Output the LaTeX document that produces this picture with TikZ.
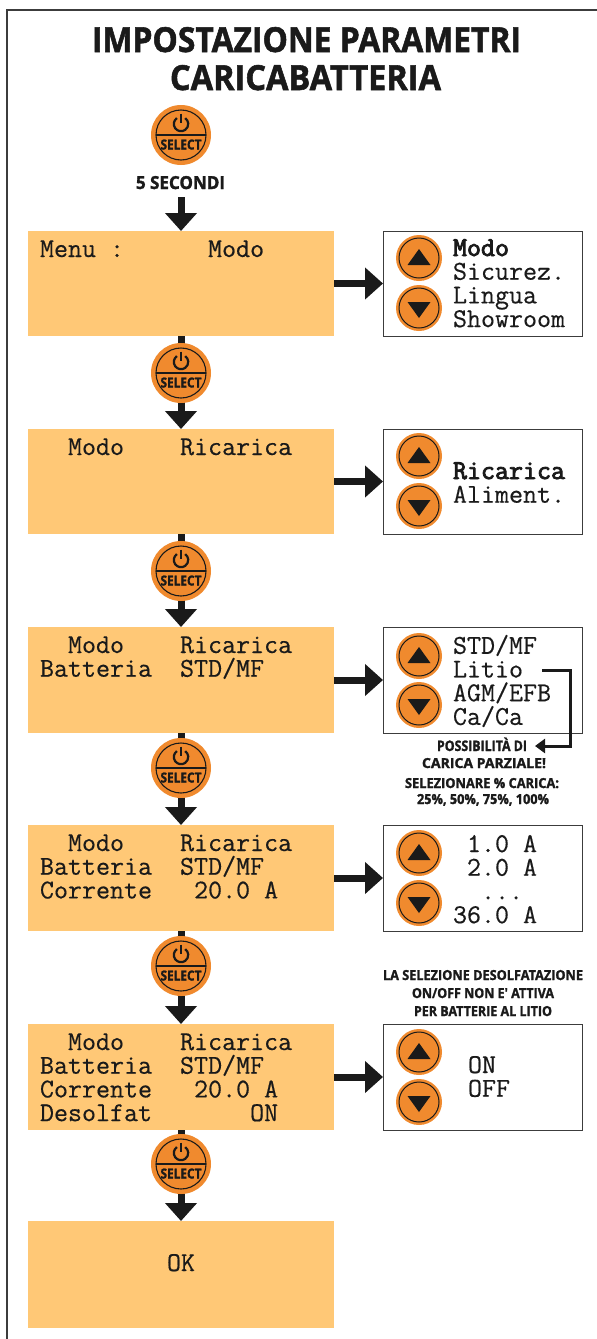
\documentclass[tikz,border=0pt]{standalone}
\usepackage{fontspec}
\usepackage{graphicx}
\usetikzlibrary{arrows.meta,calc}
\newfontfamily\capfont[BoldFeatures={FakeBold=1.6}]{Open Sans}
\newfontfamily\monofnt[FakeBold=0.5,BoldFont={Latin Modern Mono},BoldFeatures={FakeBold=3}]{Latin Modern Mono}
\definecolor{boxor}{HTML}{FFC876}
\definecolor{btnor}{HTML}{F08A2E}
\definecolor{ink}{HTML}{1A1A1A}
\definecolor{frameg}{HTML}{3C3C3C}
\tikzset{
  obox/.style={rectangle,fill=boxor,minimum width=306pt,minimum height=#1,inner sep=0pt,outer sep=0pt},
  rbox/.style={rectangle,draw=frameg,line width=0.9pt,fill=white,minimum width=199pt,minimum height=#1,inner sep=0pt,outer sep=0pt},
  monotxt/.style={anchor=north west,inner sep=0pt,outer sep=0pt,align=left,text=ink,font=\monofnt\fontsize{27.2}{23.7}\selectfont},
  captxt/.style={anchor=base,inner sep=0pt,outer sep=0pt,text=ink,font=\capfont\bfseries},
  flowarrow/.style={ink,line width=7pt,-{Triangle[length=18pt,width=31pt]}},
  stub/.style={ink,line width=7pt},
  selcirc/.style={circle,fill=btnor,minimum size=60pt,inner sep=0pt,outer sep=0pt},
  arrcirc/.style={circle,fill=btnor,minimum size=46pt,inner sep=0pt,outer sep=0pt},
}
\newcommand{\MonoT}[4]{\node[monotxt] (#1) at ({#2},{#3-17.6}) {\rule{0pt}{17.6pt}#4};}
\newcommand{\CapT}[6]{\node[captxt] (#1) at (#2,#3) {\resizebox{#4pt}{#5pt}{#6}};}
\newcommand{\SelB}[2]{%
  \node[selcirc] (#1) at (181,#2) {};
  \draw[ink,line width=1.1pt] (#1) circle (25pt);
  \draw[ink,line width=1.1pt] ($(#1)+(-25,0)$) -- ($(#1)+(25,0)$);
  \draw[ink,line width=2.2pt] ($(#1)+(-4.1,-16.9)$) arc[start angle=125,end angle=415,radius=7.2pt];
  \draw[ink,line width=2.2pt] ($(#1)+(0,-21.5)$) -- ($(#1)+(0,-12)$);
  \node[captxt] (#1t) at ($(#1)+(0,14.5)$) {\resizebox{41pt}{10pt}{SELECT}};
}
\newcommand{\UpB}[3]{%
  \node[arrcirc] (#1) at (#2,#3) {};
  \draw[ink,line width=1pt] (#1) circle (20pt);
  \fill[ink] ($(#1)+(-11.5,7)$) -- ($(#1)+(11.5,7)$) -- ($(#1)+(0,-9)$) -- cycle;
}
\newcommand{\DnB}[3]{%
  \node[arrcirc] (#1) at (#2,#3) {};
  \draw[ink,line width=1pt] (#1) circle (20pt);
  \fill[ink] ($(#1)+(-11.5,-6)$) -- ($(#1)+(11.5,-6)$) -- ($(#1)+(0,10)$) -- cycle;
}
\begin{document}
\begin{tikzpicture}[x=1pt,y=-1pt]
\useasboundingbox (0,0) rectangle (597,1339);
\fill[white] (0,0) rectangle (597,1339);
\draw[frameg,line width=2pt] (597,10) -- (7,10) -- (7,1339);
% title
\CapT{t1}{306.5}{52}{429}{25}{IMPOSTAZIONE PARAMETRI}
\CapT{t2}{305.5}{90}{271}{25}{CARICABATTERIA}
% left boxes
\node[obox=105pt] (b1) at (181,283.5) {};
\node[obox=105pt] (b2) at (181,481.5) {};
\node[obox=106pt] (b3) at (181,680) {};
\node[obox=106pt] (b4) at (181,878) {};
\node[obox=106pt] (b5) at (181,1077) {};
\node[obox=107pt] (b6) at (181,1274.5) {};
% right boxes
\node[rbox=105pt] (r1) at (482.5,283.5) {};
\node[rbox=105pt] (r2) at (482.5,481.5) {};
\node[rbox=106pt] (r3) at (482.5,680) {};
\node[rbox=106pt] (r4) at (482.5,878) {};
\node[rbox=106pt] (r5) at (482.5,1077) {};
% select buttons
\coordinate (a0) at (181,197);
\CapT{sec}{180.5}{189}{89}{13}{5 SECONDI}
\draw[flowarrow] (a0) -- (b1.north);
\draw[stub] (b1.south) -- (181,345);
\draw[flowarrow] (181,400) -- (b2.north);
\draw[stub] (b2.south) -- (181,545);
\draw[flowarrow] (181,598) -- (b3.north);
\draw[stub] (b3.south) -- (181,745);
\draw[flowarrow] (181,795) -- (b4.north);
\draw[stub] (b4.south) -- (181,945);
\draw[flowarrow] (181,993) -- (b5.north);
\draw[stub] (b5.south) -- (181,1140);
\draw[flowarrow] (181,1190) -- (b6.north);
\SelB{s0}{135}
\SelB{s1}{373}
\SelB{s2}{571}
\SelB{s3}{768}
\SelB{s4}{966}
\SelB{s5}{1164}
% horizontal arrows
\draw[flowarrow] (b1.east) -- (r1.west);
\draw[flowarrow] (b2.east) -- (r2.west);
\draw[flowarrow] (b3.east) -- (r3.west);
\draw[flowarrow] (b4.east) -- (r4.west);
\draw[flowarrow] (b5.east) -- (r5.west);
% left texts
\MonoT{m1}{40}{257}{Menu~:~~~~~~Modo}
\MonoT{m2}{40}{455}{~~Modo~~~~Ricarica}
\MonoT{m3}{40}{653}{~~Modo~~~~Ricarica\\Batteria~~STD/MF}
\MonoT{m4}{40}{851}{~~Modo~~~~Ricarica\\Batteria~~STD/MF\\Corrente~~~20.0~A}
\MonoT{m5}{40}{1050}{~~Modo~~~~Ricarica\\Batteria~~STD/MF\\Corrente~~~20.0~A\\Desolfat~~~~~~~ON}
\MonoT{m6}{167}{1271}{OK}
% right texts
\MonoT{n1}{453}{256}{\textbf{Modo}\\Sicurez.\\Lingua\\Showroom}
\MonoT{n2}{453}{479}{\textbf{Ricarica}\\Aliment.}
\MonoT{n3}{453}{652.5}{STD/MF\\Litio\\AGM/EFB\\Ca/Ca}
\MonoT{n4}{453}{852}{~1.0~A\\~2.0~A\\~~...\\36.0~A}
\MonoT{n5}{468}{1073}{ON\\OFF}
% buttons
\UpB{u1}{419}{258}\DnB{d1}{419}{308}
\UpB{u2}{419}{456}\DnB{d2}{419}{506}
\UpB{u3}{419}{656}\DnB{d3}{419}{705}
\UpB{u4}{419}{853}\DnB{d4}{419}{903}
\UpB{u5}{419}{1052}\DnB{d5}{419}{1102}
% notes
\CapT{p1}{482}{751}{90}{13.5}{POSSIBILITÀ DI}
\CapT{p2}{484}{768}{124}{10}{CARICA PARZIALE!}
\CapT{p3}{482}{788}{154}{10}{SELEZIONARE \% CARICA:}
\CapT{p4}{483}{804}{132}{10}{25\%, 50\%, 75\%, 100\%}
\coordinate (lit) at (542,670);
\coordinate (liti) at (570,670);
\coordinate (litb) at (570,746);
\coordinate (pa) at (535,746);
\draw[ink,line width=3pt,-{Triangle[length=10pt,width=14pt]}] (lit) -- (liti) -- (litb) -- (pa);
\CapT{q1}{483}{980}{200}{10}{LA SELEZIONE DESOLFATAZIONE}
\CapT{q2}{483}{998}{142}{10}{ON/OFF NON E' ATTIVA}
\CapT{q3}{483}{1016}{138}{10}{PER BATTERIE AL LITIO}
\end{tikzpicture}
\end{document}
